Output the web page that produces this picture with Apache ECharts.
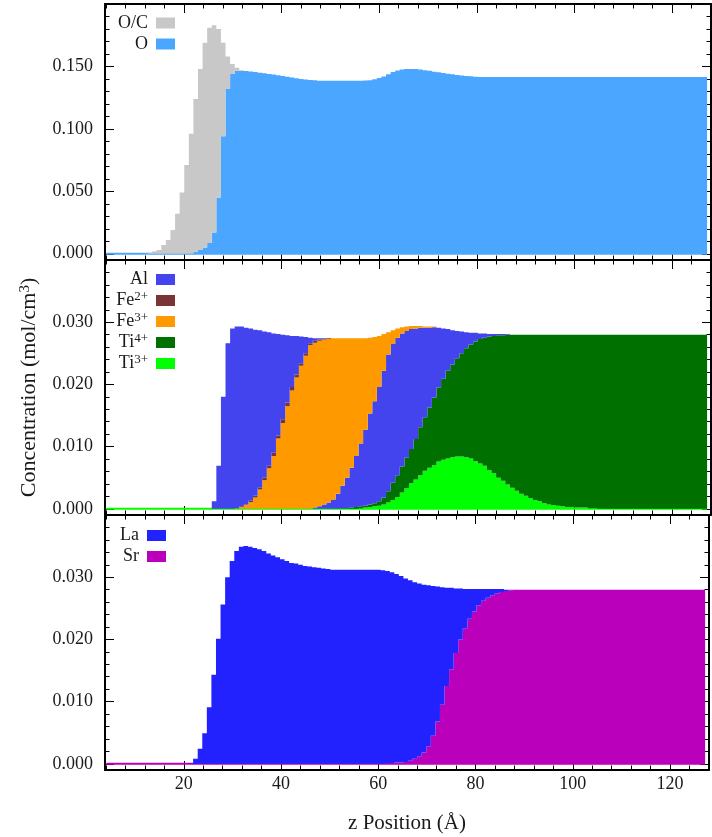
<!DOCTYPE html>
<html><head><meta charset="utf-8">
<script src="https://cdn.jsdelivr.net/npm/echarts@6/dist/echarts.min.js"></script>
<style>html,body{margin:0;padding:0;background:#fff;}#chart{width:712px;height:837px;}</style>
</head><body><div id="chart"></div>
<script>
// ---- histogram bins (z, Å) ----
const zStart = 4.06;
const binWidth = 0.94;
const xTickLabels = [20, 40, 60, 80, 100, 120];
const yTickLabelsTop = [0, 0.05, 0.10, 0.15];
const yTickLabelsMid = [0, 0.01, 0.02, 0.03];
const yTickLabelsBot = [0, 0.01, 0.02, 0.03];

// ---- panel 1 (mol/cm3) ----
const O = [
0,0,0,0,0,0,0,0,0,0,
0,0,0,0,0,0,0,0,0,
0.0016,0.003,0.005,0.0086,0.017,0.045,0.094,0.132,
0.144,0.1466,0.1466,0.1463,0.146,0.1455,0.145,0.1445,0.144,0.1436,
0.143,0.1424,0.1418,0.1412,0.1406,0.14,0.1396,0.1392,0.1389,
0.1386,0.1386,0.1386,0.1386,0.1386,0.1386,0.1386,0.1386,0.1386,0.1386,
0.1387,0.139,0.1398,0.1408,0.142,0.1438,0.1455,0.1467,0.1475,0.1479,
0.1479,0.1479,0.1475,0.147,0.1465,0.1458,0.1453,0.1448,0.1442,0.1437,
0.1432,0.1428,0.1424,0.1421,0.1418,
0.1415,0.1415,0.1415,0.1415,0.1415,0.1415,0.1415,0.1415,0.1415,0.1415,
0.1415,0.1415,0.1415,0.1415,0.1415,0.1415,0.1415,0.1415,0.1415,0.1415,
0.1415,0.1415,0.1415,0.1415,0.1415,0.1415,0.1415,0.1415,0.1415,0.1415,
0.1415,0.1415,0.1415,0.1415,0.1415,0.1415,0.1415,0.1415,0.1415,0.1415,
0.1415,0.1415,0.1415,0.1415,0.1415,0.1415,0.1415,0.1415,0.1415,0.1415
];
const OC = [
0,0,0,0,0,0,0,0,0,
0.0008,0.002,0.003,0.007,0.011,0.019,0.032,0.049,0.071,0.096,
0.1224,0.145,0.164,0.1724,0.166,0.135,0.075,0.026,0.008,0.0024,
0.0004,
0,0,0,0,0,0,0,0,0,0,
0,0,0,0,0,0,0,0,0,0,
0,0,0,0,0,0,0,0,0,0,
0,0,0,0,0,0,0,0,0,0,
0,0,0,0,0,0,0,0,0,0,
0,0,0,0,0,0,0,0,0,0,
0,0,0,0,0,0,0,0,0,0,
0,0,0,0,0,0,0,0,0,0,
0,0,0,0,0,0,0,0,0,0,
0,0,0,0,0,0,0,0,0,0,
0
];

// ---- panel 2 ----
const Ti3 = [
0,0,0,0,0,0,0,0,0,0,
0,0,0,0,0,0,0,0,0,0,
0,0,0,0,0,0,0,0,0,0,
0,0,0,0,0,0,0,0,0,0,
0,0,0,0,0,0,0,0,0,0,
0,0,0,0,0,
0.0001,0.0002,0.0003,0.0004,0.0005,0.0007,0.001,0.0014,0.0019,0.0026,
0.0033,0.0041,0.0047,0.0054,0.0061,0.0066,0.007,0.0076,0.0079,0.0081,
0.0083,0.0084,0.0084,0.0083,0.0081,0.0077,0.0073,0.0069,0.0062,0.0057,
0.005,0.0045,0.0039,0.0034,0.0029,0.0024,0.0021,0.0017,0.0014,0.0012,
0.0009,0.0007,0.0006,0.0005,0.0004,0.0003,0.0003,0.0002,0.0002,0.0002,
0.0001,0.0001,
0,0,0,0,0,0,0,0,0,0,
0,0,0,0,0,0,0,0,0,0,
0,0,0,0
];
const Ti4 = [
0,0,0,0,0,0,0,0,0,0,
0,0,0,0,0,0,0,0,0,0,
0,0,0,0,0,0,0,0,0,0,
0,0,0,0,0,0,0,0,0,0,
0,0,0,0,0,0,0,0,0,0,
0,
0.0001,0.0001,0.0002,0.0003,0.0003,0.0003,0.0004,0.0005,0.0007,0.0011,
0.0018,0.0028,0.0035,0.0042,0.0049,0.0055,0.0065,0.0077,0.0086,0.0097,
0.0109,0.0119,0.013,0.0141,0.0149,0.0158,0.0166,0.0175,0.0183,0.0192,
0.02,0.0206,0.0215,0.0221,0.0229,0.0234,0.0241,0.0246,0.0251,0.0256,
0.0259,0.0263,0.0266,0.0268,0.0271,0.0273,0.0274,0.0275,0.0276,0.0277,
0.0277,0.0278,0.0278,0.0278,0.0279,0.0279,
0.028,0.028,0.028,0.028,0.028,0.028,0.028,0.028,0.028,0.028,
0.028,0.028,0.028,0.028,0.028,0.028,0.028,0.028,0.028,0.028,
0.028,0.028,0.028,0.028
];
const AlR = [
0,0,0,0,0,0,0,0,0,0,
0,0,0,0,0,0,0,0,0,0,
0,0,0,0,0,0,0,0,0,0,
0,0,0,0,0,0,0,0,0,0,
0,0,0,0,0,
0.0002,0.0004,0.0007,0.001,0.0015,0.0024,0.0036,0.0049,0.0064,0.0082,
0.0101,0.0122,0.0146,0.0164,0.0184,0.0204,0.022,0.0223,0.0221,0.0214,
0.0204,0.0193,0.0178,0.016,0.0144,0.0128,0.0113,0.0096,0.0081,0.0067,
0.0055,0.0044,0.0035,0.0026,0.0019,0.0014,0.0009,0.0007,0.0004,0.0003,
0.0002,0.0002,0.0001,
0,0,0,0,0,0,0,0,0,0,
0,0,0,0,0,0,0,0,0,0,
0,0,0,0,0,0,0,0,0,0,
0,0,0,0,0,0,0,0,0,0,
0,0,0
];
const Fe3 = [
0,0,0,0,0,0,0,0,0,0,
0,0,0,0,0,0,0,0,0,0,
0,0,0,0,0,0,0,0,
0.0001,0.0003,0.0006,0.0011,0.0018,0.0031,0.0046,0.0065,0.0085,0.0113,
0.0138,0.0165,0.019,0.0211,0.023,0.0246,0.0263,0.0265,0.0266,0.0265,
0.0263,0.0259,0.025,0.0237,0.0224,0.0208,0.0189,0.0169,0.0147,0.0122,
0.0103,0.0082,0.0059,0.0036,0.0022,0.0015,0.001,0.0007,0.0005,0.0004,
0.0003,0.0002,0.0002,0.0001,
0,0,0,0,0,0,0,0,0,0,
0,0,0,0,0,0,0,0,0,0,
0,0,0,0,0,0,0,0,0,0,
0,0,0,0,0,0,0,0,0,0,
0,0,0,0,0,0,0,0,0,0,
0,0,0,0,0,0,0,0,0
];
const Fe2 = [
0,0,0,0,0,0,0,0,0,0,
0,0,0,0,0,0,0,0,0,0,
0,0,0,0,0,0,0,0,0,
0.0001,0.0001,0.0002,0.0003,0.0003,0.0004,0.0004,0.0005,0.0005,0.0006,
0.0006,0.0006,0.0005,0.0004,0.0004,0.0003,0.0003,0.0002,0.0001,0.0001,
0,0,0,0,0,0,0,0,0,0,
0,0,0,0,0,0,0,0,0,0,
0,0,0,0,0,0,0,0,0,0,
0,0,0,0,0,0,0,0,0,0,
0,0,0,0,0,0,0,0,0,0,
0,0,0,0,0,0,0,0,0,0,
0,0,0,0,0,0,0,0,0,0,
0,0,0,0,0,0,0,0,0,0,
0,0
];
const AlL = [
0,0,0,0,0,0,0,0,0,0,
0,0,0,0,0,0,0,0,0,0,
0,0,0,
0.0012,0.0069,0.018,0.0266,0.029,0.0292,0.0289,0.0284,0.0277,0.0267,
0.0253,0.0235,0.0215,0.0192,0.0163,0.0136,0.0108,0.0082,0.0062,0.0043,
0.0026,0.0009,0.0004,0.0002,0.0001,
0,0,0,0,0,0,0,0,0,0,
0,0,0,0,0,0,0,0,0,0,
0,0,0,0,0,0,0,0,0,0,
0,0,0,0,0,0,0,0,0,0,
0,0,0,0,0,0,0,0,0,0,
0,0,0,0,0,0,0,0,0,0,
0,0,0,0,0,0,0,0,0,0,
0,0,0,0,0,0,0,0,0,0,
0,0,0
];

// ---- panel 3 ----
const Sr = [
0,0,0,0,0,0,0,0,0,0,
0,0,0,0,0,0,0,0,0,0,
0,0,0,0,0,0,0,0,0,0,
0,0,0,0,0,0,0,0,0,0,
0,0,0,0,0,0,0,0,0,0,
0,0,0,0,0,0,0,0,0,0,
0,
0.0001,0.0001,0.0002,0.0002,0.0003,0.0005,0.0008,0.0012,0.0018,0.0028,
0.0045,0.0068,0.0095,0.0125,0.0152,0.0178,0.02,0.0218,0.0233,0.0245,
0.0255,0.0262,0.0267,0.0271,0.0274,0.0276,0.0278,0.0279,
0.028,0.028,0.028,0.028,0.028,0.028,0.028,0.028,0.028,0.028,
0.028,0.028,0.028,0.028,0.028,0.028,0.028,0.028,0.028,0.028,
0.028,0.028,0.028,0.028,0.028,0.028,0.028,0.028,0.028,0.028,
0.028,0.028,0.028,0.028,0.028,0.028,0.028,0.028,0.028,0.028,
0.028,0.028
];
const La = [
0,0,0,0,0,0,0,0,0,0,
0,0,0,0,0,0,0,0,
0.0001,0.0008,0.0024,0.0049,0.0091,0.0143,0.0201,0.0256,0.03,0.0326,
0.0342,0.0349,0.035,0.0349,0.0347,0.0345,0.0342,0.0338,0.0335,0.0332,
0.0329,0.0326,0.0323,0.0322,0.032,0.0318,0.0317,0.0316,0.0315,0.0314,
0.0313,0.0312,0.0312,0.0312,0.0312,0.0312,0.0312,0.0312,0.0312,0.0312,
0.0312,0.0312,0.0311,0.0309,0.0307,0.0303,0.03,0.0295,0.029,0.0284,
0.0278,0.027,0.0259,0.0241,0.0217,0.0189,0.0158,0.0131,0.0104,0.0082,
0.0063,0.0048,0.0036,0.0026,0.0019,0.0014,0.001,0.0007,0.0005,0.0002,
0.0001,
0,0,0,0,0,0,0,0,0,0,
0,0,0,0,0,0,0,0,0,0,
0,0,0,0,0,0,0,0,0,0,
0,0,0,0,0,0,0,0,0,0,
0,0
];

// ---- build ----
const FONT = 'Liberation Serif';
const TXT = '#1a1a1a';
const N = O.length;
const all = {O, OC, Ti3, Ti4, AlR, Fe3, Fe2, AlL, Sr, La};
for (const k in all) if (all[k].length !== N) throw new Error(k + ' has ' + all[k].length + ' bins, expected ' + N);
const edges = [];
for (let j = 0; j <= N; j++) edges.push(zStart + j * binWidth);

const panels = [
  {ymin: -0.005, ymax: 0.2, labels: yTickLabelsTop, stack: [
    ['O', O, '#4aa6ff'], ['O/C', OC, '#c8c8c8']]},
  {ymin: -0.001, ymax: 0.04, labels: yTickLabelsMid, stack: [
    ['Ti3+', Ti3, '#00ff00'], ['Ti4+', Ti4, '#007000'], ['Al', AlR, '#4444ee'],
    ['Fe3+', Fe3, '#ff9900'], ['Fe2+', Fe2, '#7a3434'], ['Al', AlL, '#4444ee']]},
  {ymin: -0.001, ymax: 0.04, labels: yTickLabelsBot, stack: [
    ['Sr', Sr, '#bb00bb'], ['La', La, '#2222ff']]}
];
const gridTops = [4, 260, 515], gridHeights = [256, 255, 255];

const grids = [], xAxes = [], yAxes = [], series = [];
function xAx(g, pos, showLabel) {
  const a = {
    type: 'value', gridIndex: g, position: pos, min: 3.8, max: 128, splitNumber: 6,
    axisLine: {show: true, onZero: false, lineStyle: {color: '#000', width: 2}},
    axisTick: {show: true, inside: true, length: 9, lineStyle: {color: '#000', width: 1}},
    minorTick: {show: true, splitNumber: 5, length: 4.5, lineStyle: {color: '#000', width: 1}},
    splitLine: {show: false}, minorSplitLine: {show: false},
    axisLabel: {show: showLabel, margin: 5, fontFamily: FONT, fontSize: 18, color: TXT,
      formatter: v => (xTickLabels.indexOf(v) >= 0 ? String(v) : '')}
  };
  if (showLabel) {
    a.name = 'z Position (Å)'; a.nameLocation = 'middle'; a.nameGap = 43;
    a.nameTextStyle = {fontFamily: FONT, fontSize: 21, color: TXT};
  }
  return a;
}
function yAx(g, pos, p, showLabel) {
  const a = {
    type: 'value', gridIndex: g, position: pos, min: p.ymin, max: p.ymax, splitNumber: 4,
    axisLine: {show: true, onZero: false, lineStyle: {color: '#000', width: 2}},
    axisTick: {show: true, inside: true, length: 9, lineStyle: {color: '#000', width: 1}},
    minorTick: {show: true, splitNumber: 5, length: 4.5, lineStyle: {color: '#000', width: 1}},
    splitLine: {show: false}, minorSplitLine: {show: false},
    axisLabel: {show: showLabel, margin: 12, fontFamily: FONT, fontSize: 18, color: TXT,
      formatter: v => (p.labels.some(t => Math.abs(t - v) < 1e-9) ? v.toFixed(3) : '')}
  };
  if (showLabel && g === 1) {
    a.name = 'Concentration (mol/cm{sup|3})'; a.nameLocation = 'middle'; a.nameGap = 65;
    a.nameTextStyle = {fontFamily: FONT, fontSize: 22, color: TXT,
      rich: {sup: {fontFamily: FONT, fontSize: 15, color: TXT, verticalAlign: 'top', lineHeight: 15}}};
  }
  return a;
}

panels.forEach((p, g) => {
  grids.push({left: 105, right: 1, top: gridTops[g], height: gridHeights[g], containLabel: false});
  xAxes.push(xAx(g, 'bottom', g === 2));
  xAxes.push(xAx(g, 'top', false));
  yAxes.push(yAx(g, 'left', p, true));
  yAxes.push(yAx(g, 'right', p, false));
  const base = new Array(N).fill(0);
  p.stack.forEach(([name, vals, color], si) => {
    const isBottom = si === 0;
    const lows = base.slice();
    const highs = vals.map((v, j) => lows[j] + v);
    for (let j = 0; j < N; j++) base[j] = highs[j];
    series.push({
      type: 'custom', name, xAxisIndex: 2 * g, yAxisIndex: 2 * g,
      itemStyle: {color}, clip: true, silent: true,
      encode: {x: [0, 1], y: [2, 3]},
      data: [[edges[0], edges[N], Math.min(...lows), Math.max(...highs)]],
      renderItem: (params, api) => {
        const pts = [];
        for (let j = 0; j < N; j++) {
          const a = api.coord([edges[j], highs[j]]), b = api.coord([edges[j + 1], highs[j]]);
          let y = a[1];
          if (isBottom) y = Math.min(y, api.coord([edges[j], 0])[1] - 1);
          pts.push([a[0], y], [b[0], y]);
        }
        for (let j = N - 1; j >= 0; j--) {
          const a = api.coord([edges[j + 1], lows[j]]), b = api.coord([edges[j], lows[j]]);
          const y = isBottom ? a[1] + 1 : a[1];
          pts.push([a[0], y], [b[0], y]);
        }
        return {type: 'polygon', shape: {points: pts}, style: {fill: color}};
      }
    });
  });
});

const supMap = {'Fe2+': '{m|Fe}{s|2+}', 'Fe3+': '{m|Fe}{s|3+}', 'Ti4+': '{m|Ti}{s|4+}', 'Ti3+': '{m|Ti}{s|3+}'};
function legend(names, right, top) {
  return {
    data: names.map(n => ({name: n, icon: 'rect'})), orient: 'vertical', align: 'right',
    right, top, padding: 0, itemGap: 0, itemWidth: 19, itemHeight: 11, selectedMode: false,
    formatter: n => supMap[n] || ('{m|' + n + '}'),
    textStyle: {fontFamily: FONT, fontSize: 18, color: TXT, lineHeight: 21, padding: [0, 3, 0, 0],
      rich: {m: {fontFamily: FONT, fontSize: 18, color: TXT, lineHeight: 21},
             s: {fontFamily: FONT, fontSize: 13, color: TXT, lineHeight: 13, verticalAlign: 'top'}}}
  };
}

const chart = echarts.init(document.getElementById('chart'), null, {renderer: 'canvas'});
chart.setOption({
  animation: false, backgroundColor: '#fff',
  grid: grids, xAxis: xAxes, yAxis: yAxes, series,
  legend: [legend(['O/C', 'O'], 537, 12.5), legend(['Al', 'Fe2+', 'Fe3+', 'Ti4+', 'Ti3+'], 537, 269),
           legend(['La', 'Sr'], 546, 525)]
});
</script></body></html>
